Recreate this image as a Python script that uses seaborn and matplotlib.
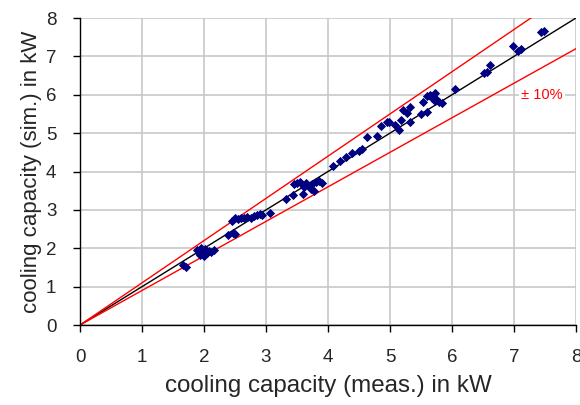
import numpy as np
import pandas as pd
import matplotlib
matplotlib.use("Agg")
import matplotlib.pyplot as plt
import seaborn as sns

meas = [1.66, 1.71,
        1.89, 1.92, 1.95, 1.97, 2.00, 2.02, 2.05, 2.08, 2.12, 2.16, 1.93, 2.00,
        2.39, 2.47, 2.50,
        2.45, 2.50, 2.55, 2.60, 2.65, 2.70, 2.75, 2.80, 2.85, 2.90, 2.94, 3.06,
        3.32, 3.44, 3.60,
        3.45, 3.50, 3.55, 3.60, 3.65, 3.70, 3.75, 3.80, 3.85, 3.72, 3.78, 3.62, 3.90,
        4.08, 4.19, 4.29, 4.39, 4.50, 4.55,
        4.63, 4.79, 4.85, 4.95, 4.99, 5.08, 5.15, 5.18, 5.21, 5.28, 5.32, 5.32,
        5.50, 5.54, 5.60, 5.60, 5.65, 5.67, 5.69, 5.72, 5.73, 5.75, 5.79, 5.84,
        6.05, 6.52, 6.56, 6.61, 6.99, 7.07, 7.11, 7.44, 7.48]
sim = [1.56, 1.51,
       1.95, 1.88, 2.00, 1.85, 1.92, 1.98, 1.87, 1.93, 1.90, 1.95, 1.82, 1.80,
       2.34, 2.40, 2.37,
       2.72, 2.78, 2.75, 2.80, 2.78, 2.82, 2.80, 2.85, 2.87, 2.88, 2.86, 2.92,
       3.28, 3.39, 3.41,
       3.68, 3.70, 3.72, 3.65, 3.70, 3.62, 3.68, 3.72, 3.75, 3.55, 3.50, 3.60, 3.70,
       4.14, 4.27, 4.38, 4.48, 4.53, 4.58,
       4.90, 4.92, 5.18, 5.28, 5.29, 5.20, 5.08, 5.34, 5.60, 5.52, 5.68, 5.28,
       5.50, 5.80, 5.55, 5.98, 6.00, 5.92, 5.94, 5.85, 6.04, 5.89, 5.81, 5.78,
       6.15, 6.56, 6.59, 6.77, 7.27, 7.13, 7.19, 7.64, 7.67]

ratios = [1.0, 1.1, 0.9]
line_colors = ["black", "red", "red"]
ticks = list(range(0, 9))

df = pd.DataFrame({"meas": meas, "sim": sim})

sns.set_style("white")
plt.rcParams["font.family"] = ["Liberation Sans", "DejaVu Sans"]

fig = plt.figure(figsize=(5.8, 4.05), dpi=100)
ax = fig.add_axes([0.138, 0.1975, 0.855, 0.758])

xs = np.array([0, 8])
for r, c in zip(ratios, line_colors):
    ax.plot(xs, r * xs, color=c, lw=1, zorder=2)

sns.scatterplot(data=df, x="meas", y="sim", marker="D", s=22, color="#000080",
                edgecolor="#000080", linewidth=0, ax=ax, zorder=3)

ax.text(7.45, 6.0, "± 10%", color="red", fontsize=10.5, ha="center", va="center",
        bbox=dict(facecolor="white", edgecolor="none", pad=1.5), zorder=4)

ax.set_xlim(0, 8)
ax.set_ylim(0, 8)
ax.set_xticks(ticks)
ax.set_yticks(ticks)
ax.grid(True, color="#c8c8c8", lw=1.2)
ax.set_axisbelow(True)
for s in ["top", "right"]:
    ax.spines[s].set_visible(False)
for s in ["left", "bottom"]:
    ax.spines[s].set_color("black")
    ax.spines[s].set_linewidth(1)
ax.tick_params(axis="both", direction="out", length=5, width=1, color="black",
               labelsize=13.5, pad=12, left=True, bottom=True)
ax.set_xlabel("cooling capacity (meas.) in kW", fontsize=17.4, labelpad=7)
ax.set_ylabel("cooling capacity (sim.) in kW", fontsize=16, labelpad=3)

fig.savefig("out.png", dpi=100)
